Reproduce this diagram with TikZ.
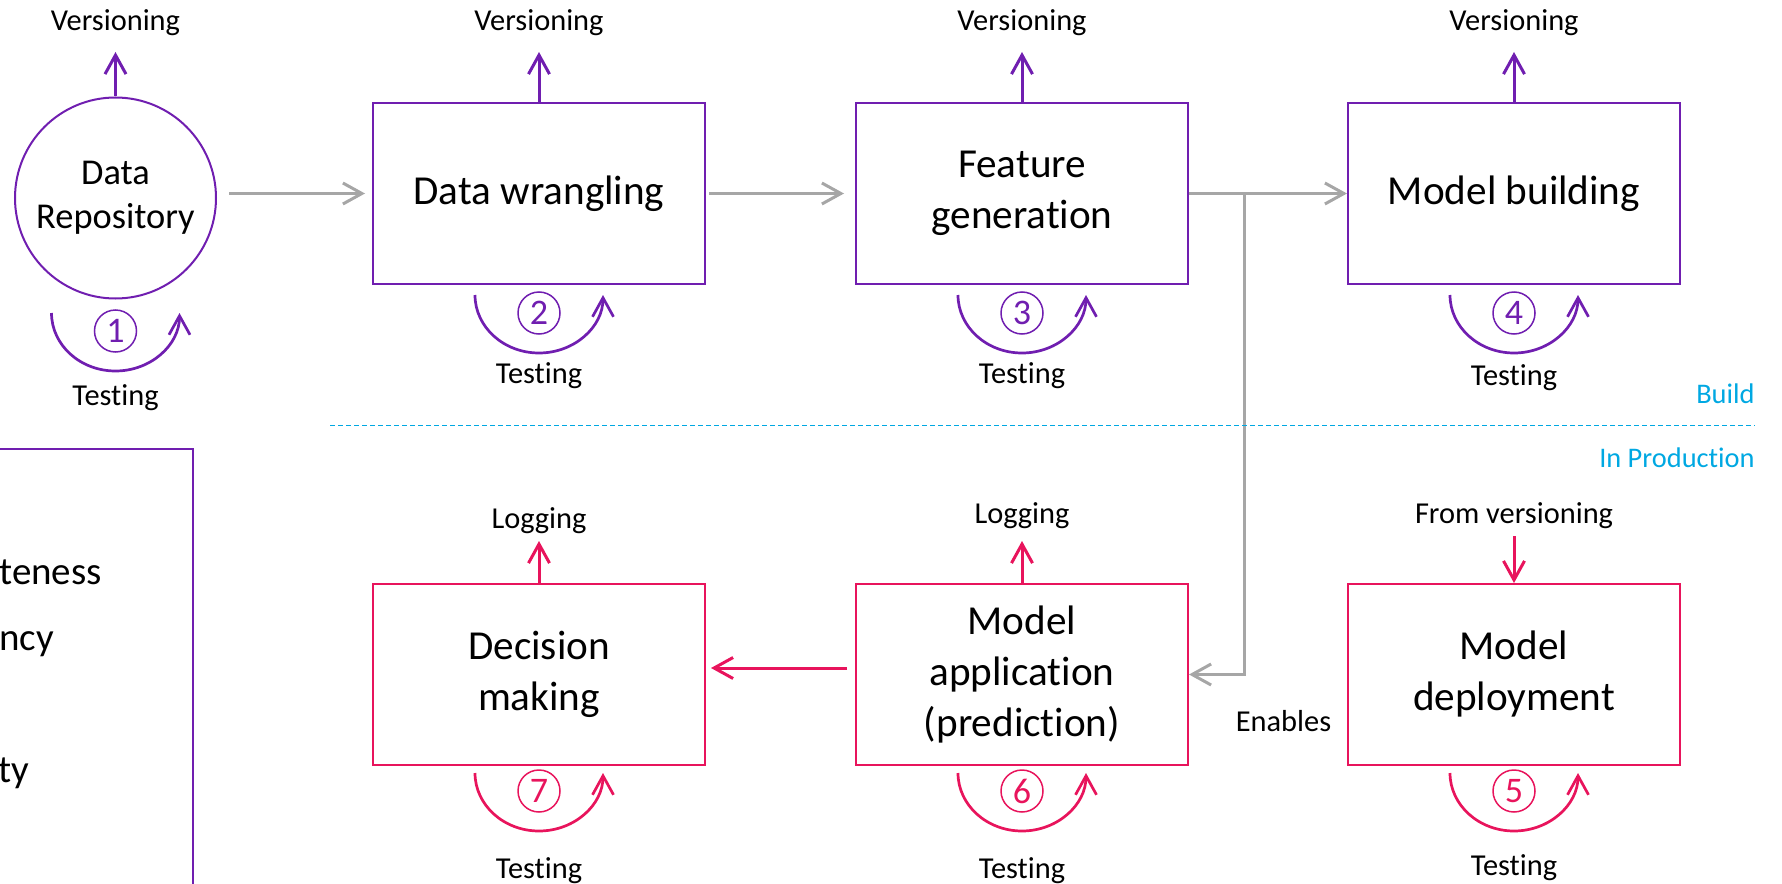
\documentclass[tikz,border=0pt]{standalone}
\usepackage{fontspec}
\setmainfont{Carlito}[Ligatures=NoCommon]
\usetikzlibrary{arrows.meta,calc}
\definecolor{purp}{RGB}{112,30,176}
\definecolor{pinkred}{RGB}{232,20,92}
\definecolor{grayln}{RGB}{166,166,166}
\definecolor{cyanln}{RGB}{0,168,226}

\begin{document}
\begin{tikzpicture}[x=0.5pt,y=-0.5pt,
  openhead/.style={-{Straight Barb[length=9.5pt,width=10.5pt]}},
  stagebox/.style={draw, line width=1pt, minimum width=166pt, minimum height=90.5pt,
    align=center, inner sep=0pt, font=\fontsize{20.6}{25.5}\selectfont},
  buildbox/.style={stagebox, draw=purp},
  prodbox/.style={stagebox, draw=pinkred},
  lbl/.style={font=\fontsize{15.2}{18}\selectfont, inner sep=0pt, anchor=base},
  phase/.style={font=\fontsize{14.2}{17}\selectfont, text=cyanln, inner sep=0pt, anchor=base east},
  legendtxt/.style={font=\fontsize{19.5}{23}\selectfont, inner sep=0pt, anchor=base west},
  flow/.style={draw=grayln, line width=1.5pt, openhead},
  buildarrow/.style={draw=purp, line width=1.5pt, openhead},
  prodarrow/.style={draw=pinkred, line width=1.5pt, openhead},
  numcirc/.style={circle, line width=0.75pt, minimum size=21pt, inner sep=0pt,
    font=\fontsize{18}{18}\selectfont},
  pics/testloop/.style n args={2}{code={
    \draw[line width=1.35pt, draw=#2, openhead]
      (-64,0) .. controls (-64,32) and (-35.3,58) .. (0,58)
              .. controls (35.3,58) and (64,32) .. (64,0);
    \node[numcirc, draw=#2, text=#2] (-n) at (0,18) {#1};
  }}
]
\useasboundingbox (0,0) rectangle (1782,883);
\clip (0,0) rectangle (1782,883);

% ---- build stages ----
\node[circle, draw=purp, line width=1pt, minimum size=100.5pt, inner sep=0pt, align=center,
      font=\fontsize{18.2}{22}\selectfont] (DR) at (115.5,198) {Data\\Repository};
\node[buildbox] (DW) at (539,193.5) {Data wrangling};
\node[buildbox] (FG) at (1022,193.5) {Feature\\generation};
\node[buildbox] (MB) at (1514,193.5) {Model building};

% ---- production stages ----
\node[prodbox] (DM) at (539,674.5) {Decision\\making};
\node[prodbox] (MA) at (1022,674.5) {Model\\application\\(prediction)};
\node[prodbox] (MD) at (1514,674.5) {Model\\deployment};

% ---- versioning outputs ----
\coordinate (vDR) at (115.5,52);
\coordinate (vDW) at (539,52);
\coordinate (vFG) at (1022,52);
\coordinate (vMB) at (1514,52);
\node[lbl] (tvDR) at (115.5,31) {Versioning};
\node[lbl] (tvDW) at (539,31) {Versioning};
\node[lbl] (tvFG) at (1022,31) {Versioning};
\node[lbl] (tvMB) at (1514,31) {Versioning};
\draw[buildarrow] (DR.north) -- (vDR);
\draw[buildarrow] (DW.north) -- (vDW);
\draw[buildarrow] (FG.north) -- (vFG);
\draw[buildarrow] (MB.north) -- (vMB);

% ---- logging outputs and incoming version ----
\coordinate (lDM) at (539,541);
\coordinate (lMA) at (1022,541);
\coordinate (fMD) at (1514,536);
\node[lbl] (tlDM) at (539,528) {Logging};
\node[lbl] (tlMA) at (1022,523) {Logging};
\node[lbl] (tfMD) at (1514,523) {From versioning};
\draw[prodarrow] (DM.north) -- (lDM);
\draw[prodarrow] (MA.north) -- (lMA);
\draw[prodarrow] (fMD) -- (MD.north);

% ---- main flow ----
\draw[flow] ($(DR.east)+(12,-4.5)$) -- ($(DW.west)+(-7,0)$);
\draw[flow] ($(DW.east)+(3,0)$) -- ($(FG.west)+(-11,0)$);
\draw[flow] (FG.east) -- (MB.west);
\coordinate (split) at (1244,193.5);
\draw[flow] (split) |- (MA.east);
\draw[prodarrow] ($(MA.west)+(-8,-6.5)$) -- ($(DM.east)+(5,-6.5)$);
\node[lbl] (enables) at (1283.5,731.7) {Enables};

% ---- testing loops ----
\pic (LDR) at (115.5,313) {testloop={1}{purp}};
\pic (LDW) at (539,295) {testloop={2}{purp}};
\pic (LFG) at (1022,295) {testloop={3}{purp}};
\pic (LMB) at (1514,295) {testloop={4}{purp}};
\pic (LMD) at (1514,773) {testloop={5}{pinkred}};
\pic (LMA) at (1022,773) {testloop={6}{pinkred}};
\pic (LDM) at (539,773) {testloop={7}{pinkred}};
\node[lbl] (tDR) at (115.5,405) {Testing};
\node[lbl] (tDW) at (539,383) {Testing};
\node[lbl] (tFG) at (1022,383) {Testing};
\node[lbl] (tMB) at (1514,385) {Testing};
\node[lbl] (tDM) at (539,878) {Testing};
\node[lbl] (tMA) at (1022,878) {Testing};
\node[lbl] (tMD) at (1514,875) {Testing};

% ---- phase separator ----
\draw[cyanln, line width=0.5pt, dash pattern=on 2.5pt off 1.5pt] (330,425) -- (1755,425);
\node[phase] (build) at (1755,403) {Build};
\node[phase] (inprod) at (1755,467) {In Production};

% ---- quality legend box ----
\draw[purp, line width=1pt] (-10,449) -- (193,449) -- (193,900);
\node[legendtxt] (q1) at (-1,584) {teness};
\node[legendtxt] (q2) at (-1,650) {ncy};
\node[legendtxt] (q3) at (-2,782) {ty};
\end{tikzpicture}
\end{document}
